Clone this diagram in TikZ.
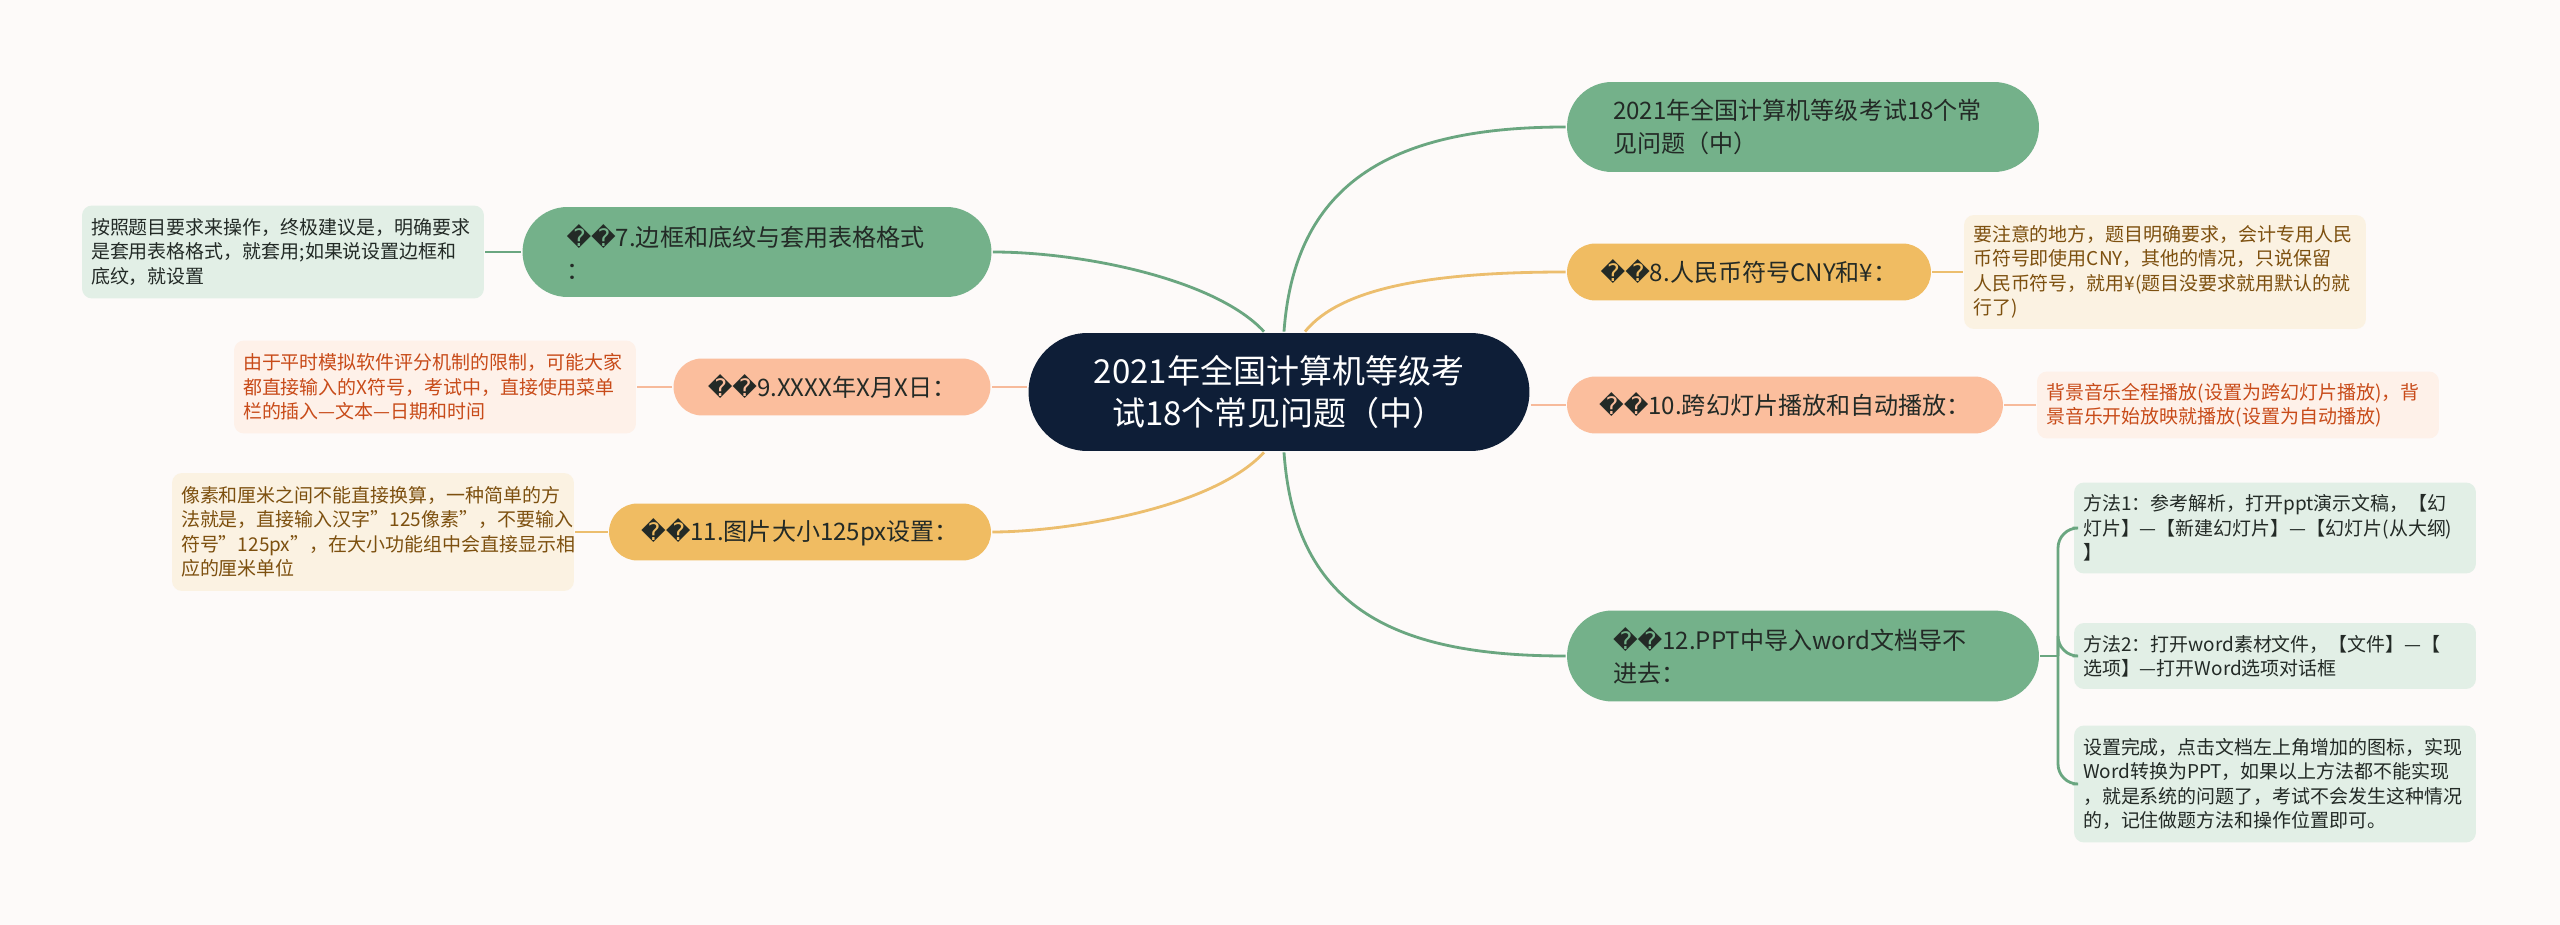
\documentclass[tikz,border=0pt]{standalone}
\usepackage{fontspec}
\setmainfont{Noto Sans CJK SC}
\newfontfamily\dejavu{DejaVu Sans}

\begin{document}
\begin{tikzpicture}[x=0.02cm,y=-0.02cm,line width=1.6pt,
	root/.style={fill=rootblue,text=white,rounded corners=1.18cm,minimum width=10.02cm,
		minimum height=2.36cm,align=center,font=\fontsize{18.8pt}{24.1pt}\selectfont},
	topic/.style={rounded corners=0.57cm,minimum height=1.14cm,inner sep=0pt,text=ink,
		align=center,font=\fontsize{13.7pt}{18.4pt}\selectfont},
	wide/.style={rounded corners=0.9cm,minimum height=1.8cm,text width=7.6cm,align=left},
	leaf/.style={rounded corners=0.2cm,text width=7.68cm,inner xsep=0.18cm,inner ysep=0pt,
		align=left,font=\fontsize{10.8pt}{13.9pt}\selectfont}]

\definecolor{paper}{RGB}{253,250,249}
\definecolor{rootblue}{RGB}{14,30,55}
\definecolor{topicgreen}{RGB}{116,177,138}
\definecolor{topicgold}{RGB}{240,188,98}
\definecolor{topicrose}{RGB}{251,190,157}
\definecolor{branchgreen}{RGB}{106,166,128}
\definecolor{branchgold}{RGB}{236,190,110}
\definecolor{branchrose}{RGB}{247,186,155}
\definecolor{leafgreen}{RGB}{226,239,230}
\definecolor{leafcream}{RGB}{251,242,226}
\definecolor{leafrose}{RGB}{254,241,233}
\definecolor{ink}{RGB}{35,42,38}
\definecolor{inkbrown}{RGB}{125,80,15}
\definecolor{inkred}{RGB}{200,75,25}

\def\bad{{\dejavu\char"FFFD\char"FFFD}}

\fill[paper] (0,0) rectangle (2560,925);
\useasboundingbox (0,0) rectangle (2560,925);

\node[root] (root) at (1279,392) {2021年全国计算机等级考\\试18个常见问题（中）};

\node[topic,wide,fill=topicgreen,minimum width=9.44cm] (top) at (1803,127)
	{2021年全国计算机等级考试18个常\\见问题（中）};
\node[topic,fill=topicgold,minimum width=7.28cm] (n8) at (1749,272) {\bad8.人民币符号CNY和¥：};
\node[topic,fill=topicrose,minimum width=8.72cm] (n10) at (1785,405) {\bad10.跨幻灯片播放和自动播放：};
\node[topic,wide,fill=topicgreen,minimum width=9.44cm,minimum height=1.82cm,rounded corners=0.91cm]
	(n12) at (1803,656) {\bad12.PPT中导入word文档导不\\进去：};
\node[topic,wide,fill=topicgreen,minimum width=9.38cm,text width=7.62cm] (n7) at (757,252)
	{\bad7.边框和底纹与套用表格格式\\：};
\node[topic,fill=topicrose,minimum width=6.34cm] (n9) at (832,387) {\bad9.XXXX年X月X日：};
\node[topic,fill=topicgold,minimum width=7.64cm] (n11) at (800,532) {\bad11.图片大小125px设置：};

\node[leaf,fill=leafcream,text=inkbrown,minimum height=2.28cm] (l8) at (2165,272)
	{要注意的地方，题目明确要求，会计专用人民\\币符号即使用CNY，其他的情况，只说保留\\人民币符号，就用¥(题目没要求就用默认的就\\行了)};
\node[leaf,fill=leafrose,text=inkred,minimum height=1.34cm] (l10) at (2238,405)
	{背景音乐全程播放(设置为跨幻灯片播放)，背\\景音乐开始放映就播放(设置为自动播放)};
\node[leaf,fill=leafgreen,text=ink,minimum height=1.82cm] (l12a) at (2275,528)
	{方法1：参考解析，打开ppt演示文稿，【幻\\灯片】—【新建幻灯片】—【幻灯片(从大纲)\\】};
\node[leaf,fill=leafgreen,text=ink,minimum height=1.32cm] (l12b) at (2275,656)
	{方法2：打开word素材文件，【文件】—【\\选项】—打开Word选项对话框};
\node[leaf,fill=leafgreen,text=ink,minimum height=2.34cm] (l12c) at (2275,784)
	{设置完成，点击文档左上角增加的图标，实现\\Word转换为PPT，如果以上方法都不能实现\\，就是系统的问题了，考试不会发生这种情况\\的，记住做题方法和操作位置即可。};
\node[leaf,fill=leafgreen,text=ink,minimum height=1.86cm] (l7) at (283,252)
	{按照题目要求来操作，终极建议是，明确要求\\是套用表格格式，就套用;如果说设置边框和\\底纹，就设置};
\node[leaf,fill=leafrose,text=inkred,minimum height=1.86cm] (l9) at (435,387)
	{由于平时模拟软件评分机制的限制，可能大家\\都直接输入的X符号，考试中，直接使用菜单\\栏的插入—文本—日期和时间};
\node[leaf,fill=leafcream,text=inkbrown,minimum height=2.36cm] (l11) at (373,532)
	{像素和厘米之间不能直接换算，一种简单的方\\法就是，直接输入汉字"125像素"，不要输入\\符号"125px"，在大小功能组中会直接显示相\\应的厘米单位};

\draw[branchgreen] ([xshift=0.1cm]root.north) .. controls +(11,-153) and +(-168,0) .. (top.west);
\draw[branchgreen] ([xshift=-0.3cm]root.north) .. controls +(-49,-53) and +(88,0) .. (n7.east);
\draw[branchgold] ([xshift=0.52cm]root.north) .. controls +(35,-43) and +(-138,0) .. (n8.west);
\draw[branchgold] ([xshift=-0.3cm]root.south) .. controls +(-54,58) and +(68,0) .. (n11.east);
\draw[branchgreen] ([xshift=0.1cm]root.south) .. controls +(11,158) and +(-168,0) .. (n12.west);
\draw[branchrose] (root.west |- n9.east) -- (n9.east);
\draw[branchrose] (root.east |- n10.west) -- (n10.west);

\foreach \a/\b/\c in {n7/l7/branchgreen,n9/l9/branchrose,n11/l11/branchgold}{
	\draw[\c] (\a.west) -- (\b.east);
}
\foreach \a/\b/\c in {n8/l8/branchgold,n10/l10/branchrose}{
	\draw[\c] (\a.east) -- (\b.west);
}

\coordinate (fork) at (2058,656);
\draw[branchgreen] (n12.east) -- (fork);
\foreach \b in {l12a,l12b,l12c}{
	\draw[branchgreen,rounded corners=0.4cm] (fork) |- (\b.west);
}

\end{tikzpicture}
\end{document}
